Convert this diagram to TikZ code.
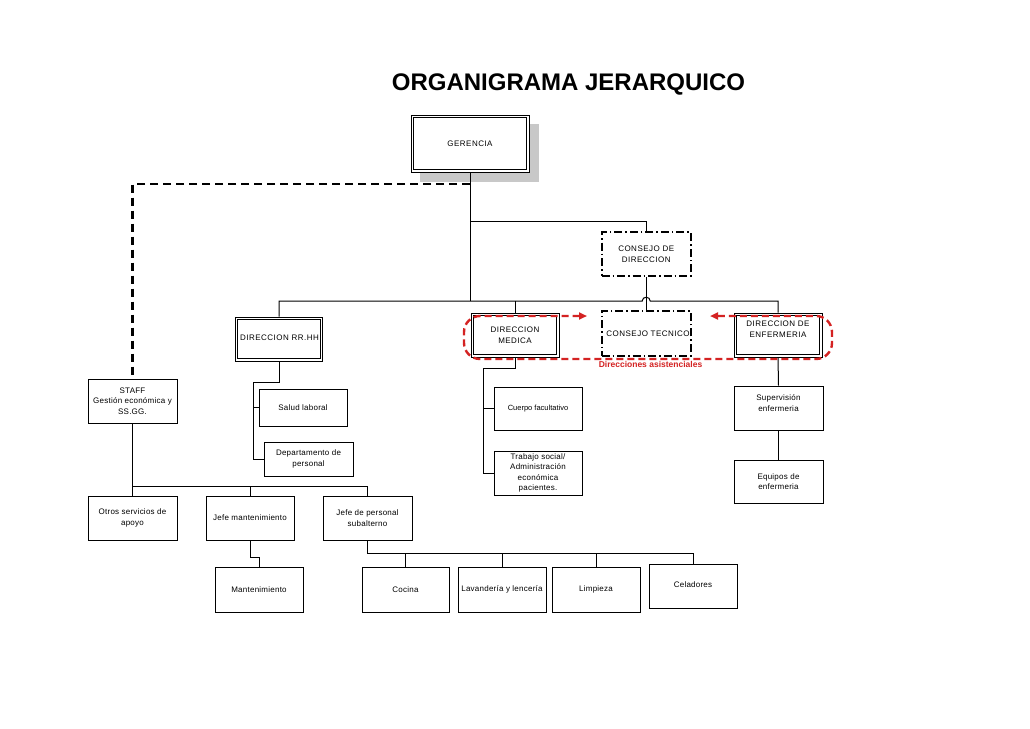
\documentclass[tikz,border=0pt]{standalone}
\usepackage{fontspec}
\setmainfont{Liberation Sans}
\newfontfamily\capsfont[LetterSpace=6]{Liberation Sans}
\newfontfamily\boxfont[LetterSpace=3]{Liberation Sans}
\usetikzlibrary{arrows.meta}
\definecolor{redA}{RGB}{212,34,34}
\definecolor{shadowgray}{RGB}{200,200,200}
\begin{document}
\begin{tikzpicture}[x=1pt,y=-1pt,
  box/.style={draw, line width=1pt, fill=white, inner sep=1pt, align=center,
    font=\boxfont\fontsize{8}{10.5}\selectfont},
  capsbox/.style={box, font=\capsfont\fontsize{8}{10.5}\selectfont},
  dbox/.style={capsbox, path picture={\draw[line width=1pt]
      ([shift={(2.3pt,-2.3pt)}]path picture bounding box.north west) rectangle
      ([shift={(-2.3pt,2.3pt)}]path picture bounding box.south east);}},
  ddbox/.style={capsbox, line width=1.7pt, dash pattern=on 8pt off 3pt on 1.5pt off 3pt},
  txt/.style={align=center, inner sep=0pt, font=\boxfont\fontsize{8}{10.5}\selectfont},
  capstxt/.style={align=center, inner sep=0pt, font=\capsfont\fontsize{8}{10.5}\selectfont},
  conn/.style={line width=1pt},
  staffdash/.style={line width=2.6pt, dash pattern=on 8pt off 5pt},
  reddash/.style={draw=redA, line width=2.4pt, dash pattern=on 7pt off 4pt, rounded corners=16pt}
]
\useasboundingbox[fill=white] (0,0) rectangle (1030,728);

% title
\node[font=\fontsize{24}{28}\selectfont\bfseries] (title) at (568.5,84) {ORGANIGRAMA JERARQUICO};

% gerencia with shadow
\fill[shadowgray] (420,124) rectangle (539,182);
\node[dbox, minimum width=118, minimum height=57] (ger) at (470,143.5) {GERENCIA};

% consejos
\node[ddbox, minimum width=89, minimum height=44] (cdir) at (646.2,254.2) {CONSEJO DE\\DIRECCION};
\node[ddbox, minimum width=89, minimum height=45] (ctec) at (646.2,333.4) {};
\node[capstxt] (ctect) at (648,334) {CONSEJO TECNICO};

% direcciones
\node[dbox, minimum width=87, minimum height=44] (rrhh) at (279,339) {};
\node[capstxt, anchor=west] (rrhht) at (240,338) {DIRECCION RR.HH.};
\node[dbox, minimum width=88, minimum height=44] (med) at (515,335) {DIRECCION\\MEDICA};
\node[dbox, minimum width=88, minimum height=44] (enf) at (778,335) {};
\node[capstxt] (enft) at (778,329) {DIRECCION DE\\ENFERMERIA};

% staff
\node[box, minimum width=89, minimum height=44] (staff) at (132.5,401) {STAFF\\Gestión económica y\\SS.GG.};

% RRHH children
\node[box, minimum width=88, minimum height=37] (salud) at (303,407.5) {Salud laboral};
\node[box, minimum width=89, minimum height=34] (dept) at (308.5,459) {Departamento de\\personal};

% Medica children
\node[box, minimum width=88, minimum height=43, font=\fontsize{7.5}{10.5}\selectfont] (cuerpo) at (538,408.5) {Cuerpo facultativo};
\node[box, minimum width=88, minimum height=44] (trab) at (538,473) {Trabajo social/\\Administración\\económica\\pacientes.};

% Enfermeria children
\node[box, minimum width=89, minimum height=44] (sup) at (778.5,408) {};
\node[txt] (supt) at (778.5,403) {Supervisión\\enfermeria};
\node[box, minimum width=89, minimum height=43] (equ) at (778.5,481.5) {Equipos de\\enfermeria};

% staff children
\node[box, minimum width=89, minimum height=44] (otros) at (132.5,518) {Otros servicios de\\apoyo};
\node[box, minimum width=88, minimum height=44] (jman) at (250,518) {Jefe mantenimiento};
\node[box, minimum width=89, minimum height=44] (jper) at (367.5,518) {Jefe de personal\\subalterno};

% bottom row
\node[box, minimum width=88, minimum height=45] (mant) at (259,589.5) {Mantenimiento};
\node[box, minimum width=87, minimum height=45] (coc) at (405.5,589.5) {Cocina};
\node[box, minimum width=88, minimum height=45] (lav) at (502,589.5) {Lavandería y lencería};
\node[box, minimum width=88, minimum height=45] (lim) at (596,589.5) {Limpieza};
\node[box, minimum width=88, minimum height=44] (cel) at (693,586) {};
\node[txt] (celt) at (693,585) {Celadores};

% coordinates
\coordinate (busL) at (rrhh.north |- 0,301);
\coordinate (busR) at (enf.north |- 0,301);
\coordinate (hop) at (cdir.south |- 0,301);

% connectors
\draw[conn] (ger.south) -- (ger.south |- busL);
\draw[conn] (ger.south |- 0,221) -| (cdir.north);
\draw[conn] (rrhh.north) -- (busL) -- ([xshift=-4pt]hop)
  .. controls ([shift={(-4,-5)}]hop) and ([shift={(4,-5)}]hop) .. ([xshift=4pt]hop) -- (busR) -- (enf.north);
\draw[conn] (med.north) -- (med.north |- busL);
\draw[conn] (cdir.south) -- (ctec.north);

\draw[staffdash] (ger.south |- 0,184) -| (staff.north);

\draw[conn] (rrhh.south) |- (253,382) |- (dept.west);
\draw[conn] (salud.west) -- ++(-6,0);

\draw[conn] (med.south) |- (483,368) |- (trab.west);
\draw[conn] (cuerpo.west) -- ++(-11,0);

\draw[conn] (enf.south) -- (sup.north);
\draw[conn] (sup.south) -- (equ.north);

\draw[conn] (staff.south) -- (otros.north);
\draw[conn] (otros.north |- 0,486) -- (jper.north |- 0,486);
\draw[conn] (jman.north) -- (jman.north |- 0,486);
\draw[conn] (jper.north) -- (jper.north |- 0,486);

\draw[conn] (jman.south) -- ++(0,17) -| (mant.north);
\draw[conn] (jper.south) -- ++(0,13) -| (cel.north);
\draw[conn] (coc.north) -- ++(0,-14);
\draw[conn] (lav.north) -- ++(0,-14);
\draw[conn] (lim.north) -- ++(0,-14);

% direcciones asistenciales loop
\draw[reddash, {Triangle[length=8pt,width=7pt]}-{Triangle[length=8pt,width=7pt]}]
  (587,316) -- (464,316) -- (464,359) -- (832,359) -- (832,316) -- (710,316);
\node[text=redA, font=\bfseries\fontsize{8.5}{10}\selectfont] (asist) at (650.5,364.5) {Direcciones asistenciales};
\end{tikzpicture}
\end{document}
